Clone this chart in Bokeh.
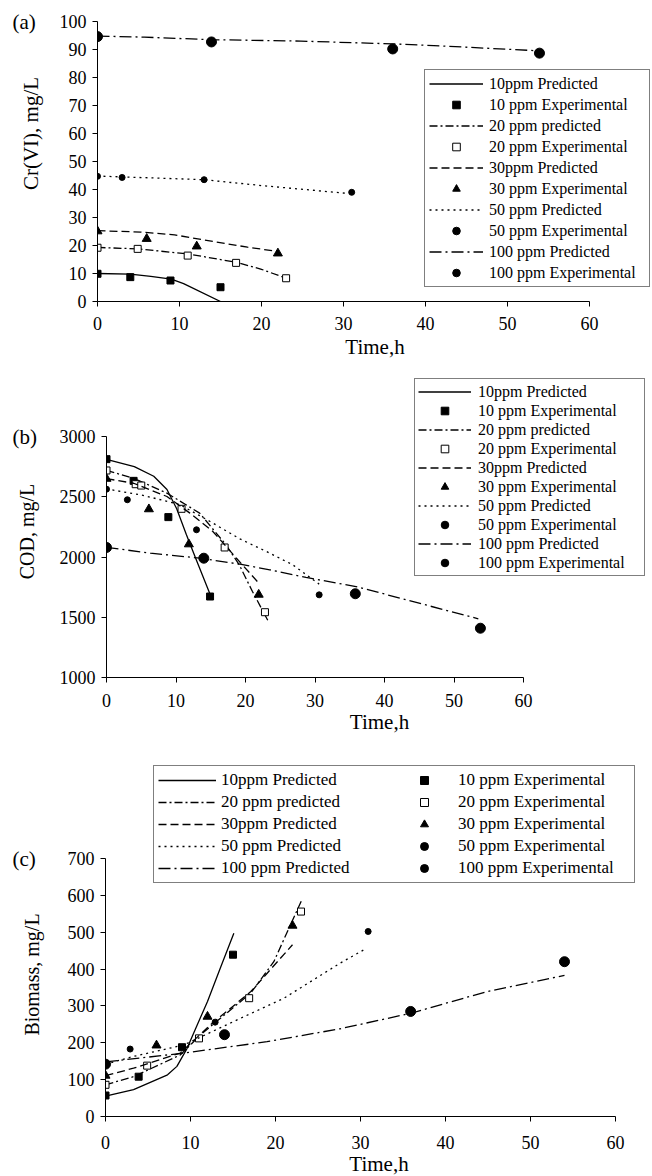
import math
from bokeh.plotting import figure
from bokeh.models import Legend, LegendItem, Label, FixedTicker, Range1d
from bokeh.embed import file_html
from bokeh.resources import INLINE

FONT = "Liberation Serif"

# ---------------- Panel (a): Cr(VI), mg/L ----------------
a_pred10_t = [0, 4, 6.5, 9, 10.5, 15]
a_pred10_v = [10, 9.8, 9.0, 8.0, 6.4, 0]
a_exp10_t = [0, 4, 8.9, 15.0]
a_exp10_v = [9.9, 8.7, 7.5, 5.1]
a_pred20_t = [0, 4.9, 11, 16.9, 20, 23]
a_pred20_v = [19.3, 18.8, 17.0, 14.0, 11.5, 8.3]
a_exp20_t = [0, 4.9, 11.0, 16.9, 23.0]
a_exp20_v = [19.2, 18.8, 16.4, 13.8, 8.3]
a_pred30_t = [0, 5.3, 9.4, 14.2, 18.3, 21.9]
a_pred30_v = [25.3, 24.8, 23.8, 21.4, 19.4, 17.9]
a_exp30_t = [0, 6.0, 12.1, 22.0]
a_exp30_v = [25.1, 22.4, 19.7, 17.2]
a_pred50_t = [0, 3, 13, 20, 30.5]
a_pred50_v = [44.8, 44.5, 43.5, 41.4, 38.6]
a_exp50_t = [0, 3.0, 13.0, 31.0]
a_exp50_v = [44.7, 44.3, 43.5, 39.0]
a_pred100_t = [0, 5.7, 14, 24.8, 36, 41, 54]
a_pred100_v = [94.8, 94.4, 93.5, 93.0, 92.0, 91.4, 89.5]
a_exp100_t = [0, 13.9, 36.0, 53.9]
a_exp100_v = [94.6, 92.7, 90.2, 88.7]

# ---------------- Panel (b): COD, mg/L ----------------
b_pred10_t = [0, 4, 6.8, 8.7, 10.1, 11.5, 13, 14.9]
b_pred10_v = [2810, 2750, 2670, 2560, 2400, 2185, 1965, 1690]
b_exp10_t = [0, 3.9, 8.9, 14.9]
b_exp10_v = [2812, 2632, 2331, 1672]
b_pred20_t = [0, 3.9, 8.7, 13.4, 17.2, 19.1, 21.0, 23.2]
b_pred20_v = [2718, 2654, 2530, 2364, 2101, 1935, 1714, 1475]
b_exp20_t = [0, 4.2, 5.0, 10.8, 17.0, 22.8]
b_exp20_v = [2718, 2604, 2593, 2400, 2079, 1542]
b_pred30_t = [0, 3.9, 8.7, 12, 15.3, 18.7, 21.7]
b_pred30_v = [2650, 2612, 2502, 2364, 2212, 1990, 1797]
b_exp30_t = [0, 6.1, 11.85, 21.9]
b_exp30_v = [2650, 2397, 2106, 1688]
b_pred50_t = [0, 5.4, 10.6, 14.9, 19.2, 23, 26.8, 30.6]
b_pred50_v = [2565, 2510, 2433, 2295, 2150, 2046, 1935, 1775]
b_exp50_t = [0, 3.0, 12.95, 30.6]
b_exp50_v = [2563, 2475, 2226, 1686]
b_pred100_t = [0, 6.3, 13.5, 19.2, 23.5, 28.7, 35.9, 53.5]
b_pred100_v = [2080, 2032, 1990, 1940, 1894, 1830, 1755, 1487]
b_exp100_t = [0, 14.0, 35.8, 53.8]
b_exp100_v = [2079, 1990, 1695, 1409]

# ---------------- Panel (c): Biomass, mg/L ----------------
c_pred10_t = [0, 3.3, 7.3, 8.4, 9.6, 10.8, 12, 13.5, 15.1]
c_pred10_v = [55, 73, 113, 136, 185, 249, 312, 402, 497]
c_exp10_t = [0, 3.9, 9.0, 15.0]
c_exp10_v = [57, 108, 188, 439]
c_pred20_t = [0, 3.3, 8.8, 11.2, 17.1, 19.8, 23.1]
c_pred20_v = [86, 108, 167, 222, 335, 420, 588]
c_exp20_t = [0, 4.9, 11.0, 16.9, 23.0]
c_exp20_v = [86, 138, 212, 321, 556]
c_pred30_t = [0, 3.3, 8.8, 12.35, 17.1, 22.0]
c_pred30_v = [111, 131, 172, 249, 339, 466]
c_exp30_t = [0, 6.0, 12.0, 22.0]
c_exp30_v = [111, 193, 271, 518]
c_pred50_t = [0, 3.3, 9.2, 15.1, 21.0, 27.6, 30.6]
c_pred50_v = [142, 163, 194, 258, 321, 416, 455]
c_exp50_t = [0, 2.9, 12.9, 30.9]
c_exp50_v = [142, 183, 256, 502]
c_pred100_t = [0, 9.2, 19.0, 27.6, 35.9, 44.9, 54.0]
c_pred100_v = [148, 172, 203, 238, 280, 339, 383]
c_exp100_t = [0, 14.0, 35.9, 54.0]
c_exp100_v = [142, 222, 285, 420]

pred_labels = ["10ppm Predicted", "20 ppm predicted", "30ppm Predicted",
               "50 ppm Predicted", "100 ppm Predicted"]
exp_labels = ["10 ppm Experimental", "20 ppm Experimental", "30 ppm Experimental",
              "50 ppm Experimental", "100 ppm Experimental"]
x_ticks = [0, 10, 20, 30, 40, 50, 60]

DASHES = ["solid", "8 3 2 3", "8 4", "2 4", "12 4 2 4"]
MARKERS = [("square", 7, "black"), ("square", 7, "white"), ("triangle", 9, "black"),
           ("circle", 6, "black"), ("circle", 10, "black")]

W = 652


def make_panel(series, y_start, y_end, y_step, ylabel, tag,
               x0_px, x60_px, ytop_px, ybot_px, fig_top, fig_h, frame_top_px,
               tick_standoff, label_standoff, ytitle_xy, ytitle_size):
    fw_data = x60_px - x0_px
    fh_data = ybot_px - ytop_px
    frame_w = W - x0_px
    frame_h = ybot_px - frame_top_px
    x_end = 60 * frame_w / fw_data
    y_end_ext = y_end + (ytop_px - frame_top_px) * (y_end - y_start) / fh_data
    p = figure(frame_width=frame_w, frame_height=frame_h,
               min_border_left=x0_px, min_border_right=0,
               min_border_top=frame_top_px - fig_top,
               min_border_bottom=fig_top + fig_h - ybot_px,
               x_range=Range1d(0, x_end), y_range=Range1d(y_start, y_end_ext),
               output_backend="svg", toolbar_location=None,
               background_fill_color="white", border_fill_color="white")
    p.outline_line_color = None
    p.grid.visible = False
    for ax in (p.xaxis[0], p.yaxis[0]):
        ax.axis_line_color = "black"
        ax.major_tick_line_color = "black"
        ax.minor_tick_line_color = None
        ax.major_tick_in = 0
        ax.major_tick_out = 5
        ax.major_label_text_font = FONT
        ax.major_label_text_font_size = "18px"
        ax.major_label_text_color = "black"
        ax.axis_label_text_font = FONT
        ax.axis_label_text_font_size = "21px"
        ax.axis_label_text_font_style = "normal"
        ax.axis_label_text_color = "black"
    p.xaxis.ticker = FixedTicker(ticks=x_ticks)
    p.yaxis.ticker = FixedTicker(ticks=list(range(y_start, y_end + 1, y_step)))
    p.xaxis.bounds = (0, 60)
    p.yaxis.bounds = (y_start, y_end)
    p.xaxis.axis_label = "Time,h"
    p.xaxis.major_label_standoff = tick_standoff
    p.yaxis.major_label_standoff = 6
    p.xaxis.axis_label_standoff = label_standoff

    pred_r, exp_r = [], []
    for i, (pt, pv, et, ev) in enumerate(series):
        lr = p.line(pt, pv, line_color="black", line_width=1.3, line_dash=DASHES[i])
        m, s, fill = MARKERS[i]
        sr = p.scatter(et, ev, marker=m, size=s, fill_color=fill, line_color="black", line_width=1)
        pred_r.append(lr)
        exp_r.append(sr)

    # y-axis title, placed in the left border
    p.add_layout(Label(x=ytitle_xy[0], y=ytitle_xy[1] - fig_top, x_units="canvas", y_units="canvas",
                       text=ylabel, angle=math.pi / 2, text_font=FONT,
                       text_font_size=ytitle_size, text_align="center", text_baseline="middle",
                       text_color="black"), "left")
    # panel tag
    p.add_layout(Label(x=12, y=ytop_px - fig_top, x_units="canvas", y_units="canvas", text=tag,
                       text_font=FONT, text_font_size="21px", text_baseline="middle",
                       text_color="black"), "left")
    return p, pred_r, exp_r


def style_legend(lg, font_size, spacing, glyph_w, standoff, padding, row_h, label_w):
    lg.label_text_font = FONT
    lg.label_text_font_size = font_size
    lg.label_text_color = "black"
    lg.border_line_color = "black"
    lg.border_line_width = 1
    lg.background_fill_color = "white"
    lg.background_fill_alpha = 1
    lg.spacing = spacing
    lg.glyph_width = glyph_w
    lg.glyph_height = row_h
    lg.label_height = row_h
    lg.label_width = label_w
    lg.label_standoff = standoff
    lg.padding = padding
    lg.margin = 0


# Panel (a)
series_a = [(a_pred10_t, a_pred10_v, a_exp10_t, a_exp10_v),
            (a_pred20_t, a_pred20_v, a_exp20_t, a_exp20_v),
            (a_pred30_t, a_pred30_v, a_exp30_t, a_exp30_v),
            (a_pred50_t, a_pred50_v, a_exp50_t, a_exp50_v),
            (a_pred100_t, a_pred100_v, a_exp100_t, a_exp100_v)]
pa, pra, era = make_panel(series_a, 0, 100, 10, "Cr(VI), mg/L", "(a)",
                          97, 589, 21, 301, 0, 360, 21, 10, 2, (30, 133), "21px")
items_a = []
for i in range(5):
    items_a.append(LegendItem(label=pred_labels[i], renderers=[pra[i]]))
    items_a.append(LegendItem(label=exp_labels[i], renderers=[era[i]]))
lega = Legend(items=items_a, location=(424 - 97, 301 - 287))
style_legend(lega, "16px", 2, 54, 6, 4, 19, 156)
pa.add_layout(lega)

# Panel (b)
series_b = [(b_pred10_t, b_pred10_v, b_exp10_t, b_exp10_v),
            (b_pred20_t, b_pred20_v, b_exp20_t, b_exp20_v),
            (b_pred30_t, b_pred30_v, b_exp30_t, b_exp30_v),
            (b_pred50_t, b_pred50_v, b_exp50_t, b_exp50_v),
            (b_pred100_t, b_pred100_v, b_exp100_t, b_exp100_v)]
pb, prb, erb = make_panel(series_b, 1000, 3000, 500, "COD, mg/L", "(b)",
                          106, 523, 435, 676, 360, 380, 372, 11, 0, (26, 530), "20px")
items_b = []
for i in range(5):
    items_b.append(LegendItem(label=pred_labels[i], renderers=[prb[i]]))
    items_b.append(LegendItem(label=exp_labels[i], renderers=[erb[i]]))
legb = Legend(items=items_b, location=(414 - 106, 676 - 575))
style_legend(legb, "16px", 0, 53, 7, 3, 19, 163)
pb.add_layout(legb)

# Panel (c)
series_c = [(c_pred10_t, c_pred10_v, c_exp10_t, c_exp10_v),
            (c_pred20_t, c_pred20_v, c_exp20_t, c_exp20_v),
            (c_pred30_t, c_pred30_v, c_exp30_t, c_exp30_v),
            (c_pred50_t, c_pred50_v, c_exp50_t, c_exp50_v),
            (c_pred100_t, c_pred100_v, c_exp100_t, c_exp100_v)]
pc, prc, erc = make_panel(series_c, 0, 700, 100, "Biomass, mg/L", "(c)",
                          105, 615, 857, 1115, 740, 436, 762, 14, 0, (31, 973), "20px")
items_c = [LegendItem(label=pred_labels[i], renderers=[prc[i]]) for i in range(5)] + \
          [LegendItem(label=exp_labels[i], renderers=[erc[i]]) for i in range(5)]
legc = Legend(items=items_c, location=(153 - 105, 1115 - 882), ncols=2)
style_legend(legc, "17px", 2, 58, 5, 4, 20, 172)
pc.add_layout(legc)

open("out.html", "w").write(file_html([pa, pb, pc], INLINE))
